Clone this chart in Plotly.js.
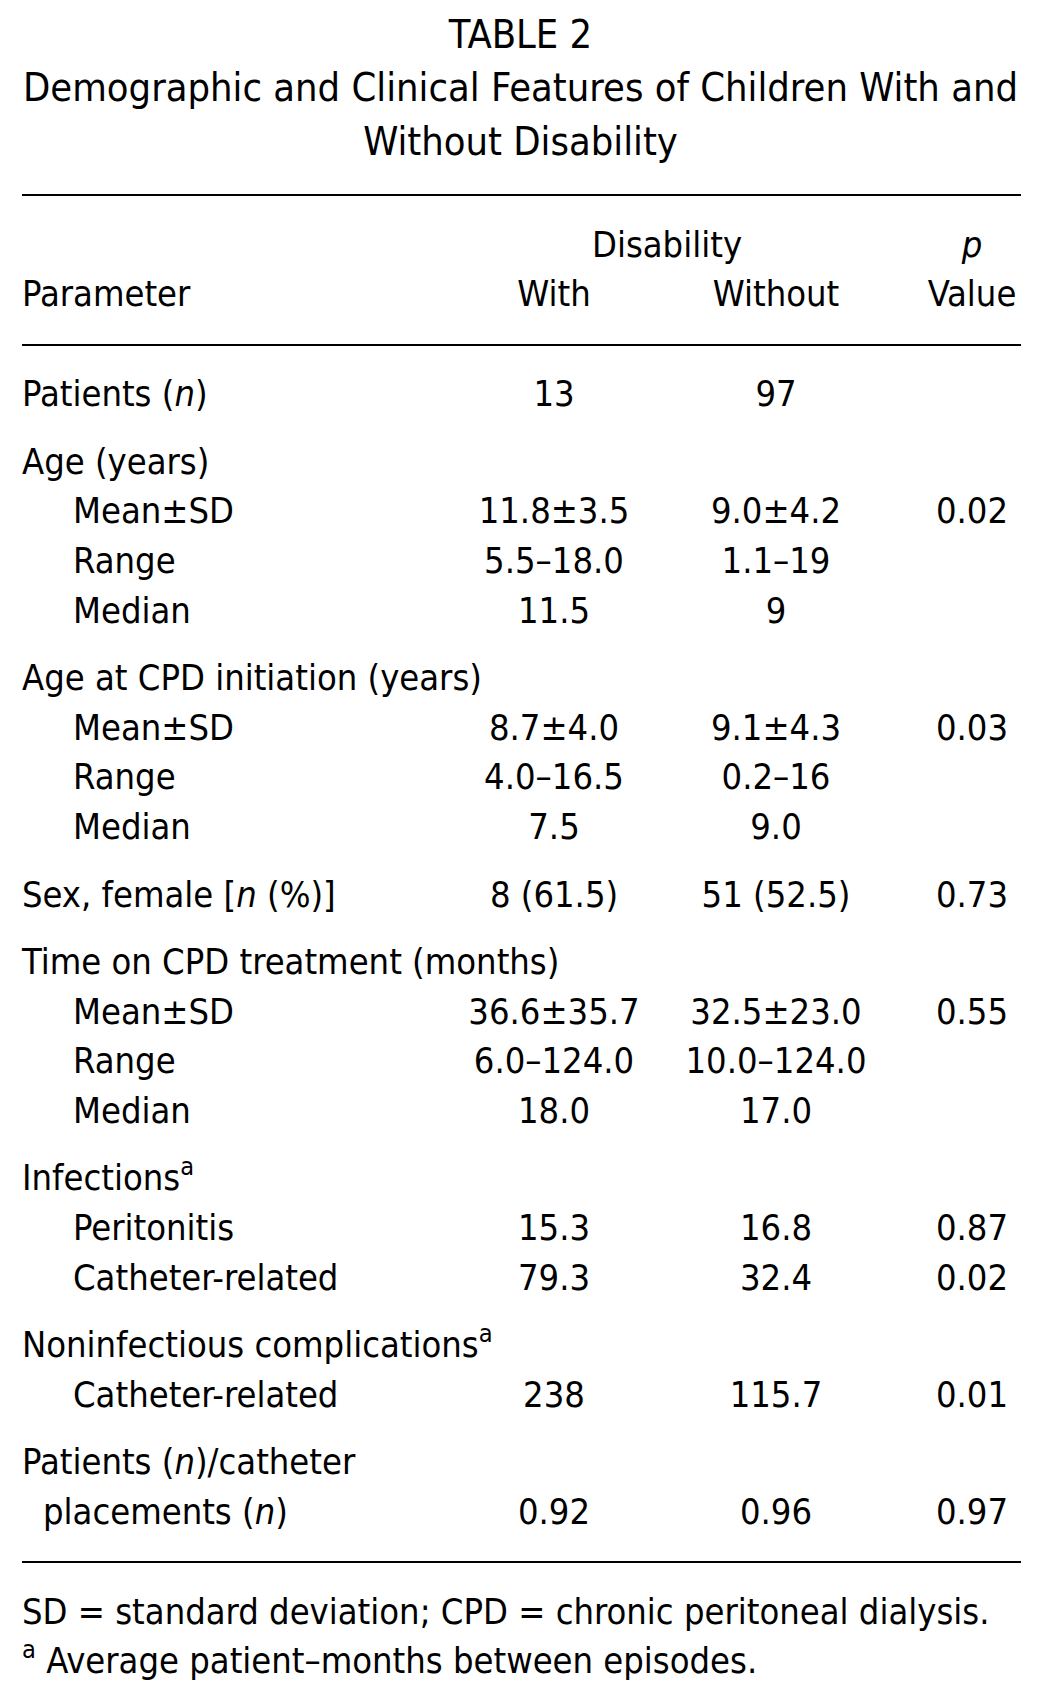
<!DOCTYPE html>
<html>
<head>
<meta charset="utf-8">
<script src="https://cdn.plot.ly/plotly-3.0.1.min.js"></script>
<style>html,body{margin:0;padding:0;background:#fff;}#chart{width:1041px;height:1700px;}</style>
</head>
<body>
<div id="chart"></div>
<script>
// ---- data ----
var titleLines = ['TABLE 2', 'Demographic and Clinical Features of Children With and', 'Without Disability'];
var headerTop = ['Disability', '<i>p</i>'];
var headerBottom = ['Parameter', 'With', 'Without', 'Value'];
var paramLabels = ['Patients (<i>n</i>)', 'Age (years)', 'Mean±SD', 'Range', 'Median',
  'Age at CPD initiation (years)', 'Mean±SD', 'Range', 'Median',
  'Sex, female [<i>n</i> (%)]',
  'Time on CPD treatment (months)', 'Mean±SD', 'Range', 'Median',
  'Infections<sup>a</sup>', 'Peritonitis', 'Catheter-related',
  'Noninfectious complications<sup>a</sup>', 'Catheter-related',
  'Patients (<i>n</i>)/catheter', 'placements (<i>n</i>)'];
var indentLevels = [0,0,1,1,1, 0,1,1,1, 0, 0,1,1,1, 0,1,1, 0,1, 0,2];
var groupIndex   = [0,1,1,1,1, 2,2,2,2, 3, 4,4,4,4, 5,5,5, 6,6, 7,7];
var withValues = ['13','','11.8±3.5','5.5–18.0','11.5', '','8.7±4.0','4.0–16.5','7.5',
  '8 (61.5)', '','36.6±35.7','6.0–124.0','18.0', '','15.3','79.3', '','238', '','0.92'];
var withoutValues = ['97','','9.0±4.2','1.1–19','9', '','9.1±4.3','0.2–16','9.0',
  '51 (52.5)', '','32.5±23.0','10.0–124.0','17.0', '','16.8','32.4', '','115.7', '','0.96'];
var pValues = ['','','0.02','','', '','0.03','','', '0.73', '','0.55','','', '','0.87','0.02', '','0.01', '','0.97'];
var footnotes = ['SD = standard deviation; CPD = chronic peritoneal dialysis.',
  '<sup>a</sup> Average patient–months between episodes.'];

// ---- layout constants ----
var W = 1041, H = 1700;
var FONT = 'DejaVu Sans Condensed, DejaVu Sans, sans-serif';
var FS = 36, FS_TITLE = 39.5, FS_FOOT = 36;
var leftX = 22, indentX = [22, 73, 43];
var colX = {with: 554, without: 776, p: 972, disab: 667};
var firstRowY = 393, rowH = 49.7, groupGap = 17.7;
var titleY = [34, 87, 141];
var headY = [244, 293];
var rules = [195, 345, 1562];
var footY = [1611, 1660];

function rowY(i) { return firstRowY + i * rowH + groupIndex[i] * groupGap; }
// shift so that the cap-height middle sits on the target line
function shift(fs) { return 0.1145 * fs; }

var traces = [];
function textTrace(xs, ys, texts, pos, size) {
  var fs = size || FS;
  var X = [], Y = [], T = [];
  texts.forEach(function(t, i) {
    if (t === '') return;
    X.push(xs[i]); Y.push(ys[i] + shift(fs)); T.push(t);
  });
  traces.push({
    type: 'scatter', mode: 'text', x: X, y: Y, text: T,
    textposition: pos, hoverinfo: 'skip', showlegend: false,
    textfont: {family: FONT, size: fs, color: '#000'},
    cliponaxis: false
  });
}

// title
textTrace(titleLines.map(function(){return W/2;}), titleY, titleLines, 'middle center', FS_TITLE);
// header
textTrace([colX.disab, colX.p], [headY[0], headY[0]], headerTop, 'middle center');
textTrace([leftX], [headY[1]], [headerBottom[0]], 'middle right');
textTrace([colX.with, colX.without, colX.p], [headY[1], headY[1], headY[1]], headerBottom.slice(1), 'middle center');
// body
var ys = paramLabels.map(function(_, i){ return rowY(i); });
textTrace(indentLevels.map(function(l){ return indentX[l]; }), ys, paramLabels, 'middle right');
textTrace(ys.map(function(){return colX.with;}), ys, withValues, 'middle center');
textTrace(ys.map(function(){return colX.without;}), ys, withoutValues, 'middle center');
textTrace(ys.map(function(){return colX.p;}), ys, pValues, 'middle center');
// footnotes
textTrace([leftX, leftX], footY, footnotes, 'middle right', FS_FOOT);

var shapes = rules.map(function(y){
  return {type: 'line', xref: 'x', yref: 'y', x0: 22, x1: 1021, y0: y, y1: y,
          line: {color: '#000', width: 2}};
});

var layout = {
  width: W, height: H,
  margin: {l: 0, r: 0, t: 0, b: 0, pad: 0},
  paper_bgcolor: '#fff', plot_bgcolor: '#fff',
  xaxis: {range: [0, W], visible: false, fixedrange: true},
  yaxis: {range: [H, 0], visible: false, fixedrange: true},
  shapes: shapes,
  showlegend: false
};

Plotly.newPlot('chart', traces, layout, {staticPlot: true, displayModeBar: false});
</script>
</body>
</html>
